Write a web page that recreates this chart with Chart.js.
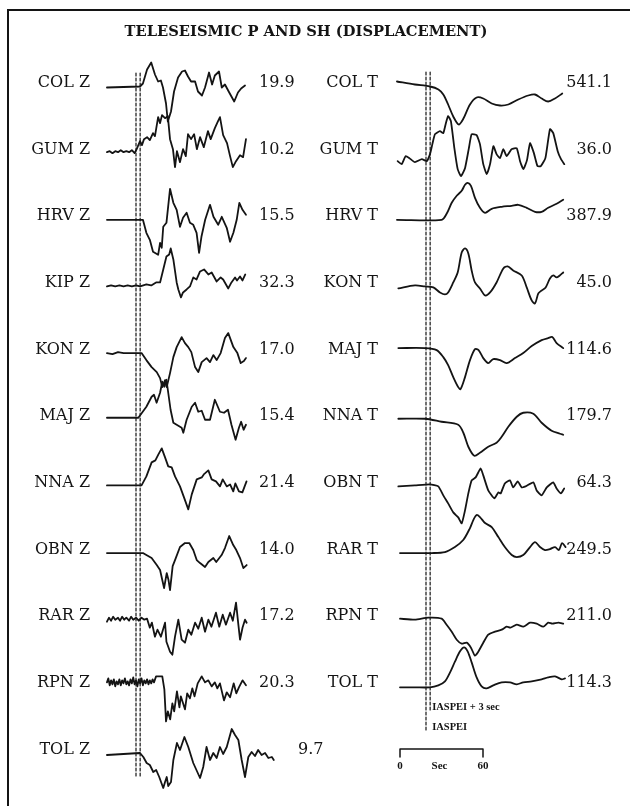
<!DOCTYPE html>
<html>
<head>
<meta charset="utf-8">
<title>Teleseismic P and SH (displacement)</title>
<script src="https://cdn.jsdelivr.net/npm/chart.js@4.4.1/dist/chart.umd.min.js"></script>
<style>
  html, body { margin: 0; padding: 0; background: #fff; }
  #wrap { position: relative; width: 630px; height: 806px; }
</style>
</head>
<body>
<div id="wrap"><canvas id="chart"></canvas></div>
<script>
// stations and peak amplitudes
var zStations = ['COL Z', 'GUM Z', 'HRV Z', 'KIP Z', 'KON Z', 'MAJ Z', 'NNA Z', 'OBN Z', 'RAR Z', 'RPN Z', 'TOL Z'];
var zAmps = [19.9, 10.2, 15.5, 32.3, 17.0, 15.4, 21.4, 14.0, 17.2, 20.3, 9.7];
var tStations = ['COL T', 'GUM T', 'HRV T', 'KON T', 'MAJ T', 'NNA T', 'OBN T', 'RAR T', 'RPN T', 'TOL T'];
var tAmps = [541.1, 36.0, 387.9, 45.0, 114.6, 179.7, 64.3, 249.5, 211.0, 114.3];

// traces: [seconds after IASPEI arrival, deflection (up +)]
var colZ = [[-21,-6],[2.9,-5],[5,-2],[8,12],[11,19],[13.7,7],[16,0],[18,1],[19.5,-6],[21.7,-22],[23,-40],[25.3,-30],[27.5,-10],[30.4,4],[33.3,10],[35.4,11],[37.6,5],[39.8,0],[42.7,0],[44.8,-10],[47.7,-14],[49.9,-6],[52.8,9],[55,-3],[57,6],[60,10],[62,-6],[64.3,-3],[67,-10],[71,-20],[73.7,-11],[76,-7],[78.8,-4]];
var gumZ = [[-21,-4],[-19,-3],[-17,-5],[-15,-3],[-13,-4],[-11,-2],[-9,-4],[-7,-3],[-5,-4],[-3,-2],[-1,-5],[0.5,-1],[2.9,7],[4.3,3],[5.8,9],[8,11],[10,8],[12.3,15],[13.7,12],[16,31],[17.4,25],[18.8,33],[21,30],[23,32],[24.6,9],[26.7,-1],[28.2,-19],[29.6,-3],[31.8,-14],[34,-1],[36,-8],[37.6,14],[39.8,9],[42,14],[44,-1],[46.3,11],[49,1],[52,17],[54,9],[57,20],[59.3,27],[60.7,31],[63,13],[65.8,5],[68,-8],[70,-19],[72.3,-13],[75.2,-7],[77.4,-9],[79.5,9]];
var hrvZ = [[-21,-5],[5,-5],[7.5,-18],[10,-25],[12.3,-37],[16,-40],[17.4,-28],[18.6,-33],[19.7,-12],[22,-8],[23.3,9],[24.6,26],[27,12],[29.4,5],[31.8,-12],[34,-3],[36.6,2],[39,-8],[41.4,-10],[43.8,-18],[45.6,-38],[47.3,-22],[50,-5],[53.5,10],[56,-2],[59.4,-10],[62,-2],[65.6,-13],[68,-27],[70.4,-18],[72.8,-5],[74.7,12],[77,5],[79.5,0]];
var kipZ = [[-21,-5],[-18,-4],[-15,-5],[-12,-4],[-9,-5],[-6,-4],[-3,-5],[0,-4],[3,-5],[7.5,-3],[11,-4],[14.5,-1],[17.4,-1],[19.7,12],[22,25],[24,27],[25.1,33],[27,22],[29.4,-1],[30.6,-8],[32.5,-16],[34,-11],[36.6,-8],[39,-5],[41.4,4],[43.8,2],[46.3,10],[49.2,12],[52.3,7],[54.7,9],[58.3,0],[61.2,4],[63,2],[66.7,-7],[69,-1],[71.6,4],[73,1],[75.2,5],[77,1],[79,7]];
var konZ = [[-21,-5],[-17,-6],[-13,-4],[-9,-5],[-5,-5],[4,-5],[7.5,-12],[11.3,-19],[15,-24],[17.4,-30],[19,-39],[21,-32],[22.2,-39],[24.6,-25],[27,-9],[29.4,1],[33,11],[35.4,5],[37.8,1],[40,-4],[42.7,-19],[45,-24],[47.5,-14],[51,-10],[53.5,-14],[55.9,-7],[58.3,-12],[61.2,-5],[64.3,10],[66.7,15],[70.4,1],[73.3,-5],[75.7,-15],[78,-13],[79.5,-10]];
var majZ = [[-21,-3],[1.7,-3],[7.5,8],[11.3,18],[13,20],[14.9,12],[17.4,22],[19,33],[20.5,28],[22,35],[23.3,22],[25,5],[27,-8],[29.4,-10],[33,-13],[34.2,-18],[36.6,-5],[40.3,8],[42.7,12],[45,3],[47.5,4],[49.9,-5],[53.5,-5],[57,15],[60.7,3],[63.6,2],[66.5,5],[69,-10],[72,-25],[74.4,-13],[76,-7],[77.8,-15],[79.5,-10]];
var nnaZ = [[-21,-4],[4,-4],[7.5,5],[11.3,19],[14,21],[16.2,27],[18.6,33],[21,24],[23.3,15],[25.8,14],[28.2,5],[31.8,-5],[34.7,-16],[37.8,-28],[40.3,-13],[43.9,2],[47.5,4],[49,7],[52.3,11],[54.7,2],[57.8,0],[60.7,-5],[62.7,2],[65.6,-5],[68,-3],[70.3,-10],[71.8,-2],[74.4,-10],[76.9,-11],[79.9,0]];
var obnZ = [[-21,-5],[5,-5],[7.5,-7],[11.3,-10],[15,-17],[17.4,-22],[19,-32],[20.3,-40],[22.2,-25],[23.5,-32],[24.6,-42],[26.5,-18],[28.2,-12],[31.8,1],[35.4,5],[38.5,5],[41.4,-2],[43.9,-12],[46.3,-15],[49.9,-19],[52.3,-14],[55.9,-10],[58,-14],[61.9,-7],[64.3,0],[67.4,12],[70.3,3],[72.5,-2],[75.2,-10],[77.6,-20],[80,-17]];
var rarZ = [[-21,-7],[-19.5,-3],[-18,-6],[-16.5,-2],[-15,-5],[-13,-3],[-11.5,-6],[-10,-2],[-8.5,-5],[-7,-3],[-5,-6],[-3.5,-2],[-2,-5],[0,-3],[2,-6],[4,-3],[6,-5],[8,-4],[10,-13],[11.5,-8],[13.7,-22],[15.5,-15],[18,-22],[21,-8],[22,-27],[24.6,-37],[26.3,-40],[28.2,-22],[30.6,-5],[33,-25],[35.4,-28],[37.8,-15],[40,-20],[42.7,-8],[45,-14],[47.5,-3],[49.9,-17],[52.3,-5],[54.5,-12],[57.8,2],[60.2,-12],[62.7,0],[65,-10],[68,2],[70,-6],[72.3,12],[74,-10],[75.2,-25],[77,-13],[78.8,-5],[80,-8]];
var rpnZ = [[-21,-1],[-20,3],[-19,-4],[-18,1],[-17,-3],[-16,2],[-15,-5],[-14,0],[-13,-3],[-12,2],[-11,-4],[-10,1],[-9,-2],[-8,3],[-7,-3],[-6,0],[-5,-4],[-4,2],[-3,-2],[-2,4],[-1,-3],[0,1],[1,-5],[2,2],[3,-2],[4,3],[5,-4],[6,1],[7,-2],[8,2],[9,-3],[10,1],[11,-2],[12,2],[13,-1],[14.5,5],[17,5],[19,5],[20.5,-8],[21.7,-40],[23,-30],[24.7,-38],[26.3,-22],[27.6,-30],[29.6,-10],[31.4,-26],[32.4,-15],[35.4,-28],[37,-12],[39,-17],[40.7,-7],[42.3,-15],[44.6,-2],[47.5,5],[49.9,-1],[52.3,1],[54.7,-5],[57,-1],[58.8,-7],[60.7,-2],[63.6,-19],[65.6,-11],[68,-16],[70.6,-2],[72.5,-12],[74.4,-6],[77,1],[79.5,-4]];
var tolZ = [[-21,-7],[2.9,-5],[5.3,-9],[7.7,-15],[10,-17],[12.5,-24],[14.6,-22],[16.8,-29],[19.7,-40],[21,-34],[22.2,-29],[23.3,-38],[25.3,-34],[27,-12],[29.6,5],[31.8,-2],[35,11],[37.8,1],[41.4,-15],[46.3,-30],[48.6,-19],[51,1],[53.5,-12],[55.9,-5],[58.3,-10],[60.7,1],[63,-6],[65.6,1],[69.2,19],[71.6,13],[74,8],[76.4,-12],[78.8,-29],[81.2,-9],[83.6,-4],[86,-8],[88.3,-2],[90.8,-7],[93.3,-5],[95.7,-10],[98.2,-9],[99.6,-12]];

var colT = [[-21,0],[-8,-3],[2.9,-5],[9,-8],[12.5,-13],[16,-23],[19.7,-35],[23.6,-43],[26.7,-38],[31.8,-23],[36.6,-16],[41.4,-17],[47.5,-22],[53.5,-24],[59.5,-23],[66.7,-18],[73.9,-14],[78.8,-13],[83.6,-17],[88.3,-20],[93.2,-17],[98.5,-12]];
var gumT = [[-20.5,-13],[-17.6,-16],[-14.7,-8],[-12,-10],[-8,-14],[-3,-11],[0.5,-13],[2.9,-6],[4.6,4],[6.5,14],[10.1,17],[12.5,15],[14.2,24],[16,32],[18,27],[20.5,0],[22.9,-21],[25.3,-28],[28.2,-20],[31,0],[33,14],[36.6,13],[39,4],[41.4,-16],[43.9,-26],[46.3,-16],[48.7,2],[51,-6],[53.5,-10],[55.9,-1],[58.3,-8],[61.9,-1],[65.6,0],[68,-13],[70.4,-21],[73,-12],[75.2,5],[78,-5],[80.6,-18],[83,-18],[86.3,-10],[89.6,19],[92,15],[95.2,-3],[97.6,-11],[100,-16]];
var hrvT = [[-21,-5],[11.3,-5],[14.9,1],[18.6,12],[22.2,19],[25.8,24],[28.2,30],[30.1,32],[32.5,29],[35.4,17],[39,7],[42.7,2],[47.5,6],[54.7,8],[61.9,9],[66.7,10],[72.8,7],[78.8,3],[83.6,3],[88.3,7],[94.4,11],[99.2,15]];
var konT = [[-20,-7],[-8,-4],[-0.7,-5],[5.3,-6],[10.1,-11],[13.7,-13],[16,-11],[19.7,-1],[22.9,9],[25.8,29],[28.2,33],[30.6,28],[33,11],[35.4,-1],[39,-7],[42.7,-14],[46.3,-11],[51,-1],[55.9,13],[59,15],[63,11],[69.2,6],[72.8,-6],[76.4,-19],[78.8,-22],[81.2,-12],[83.6,-9],[86.5,-6],[89.6,3],[92,6],[94.4,4],[96.7,6],[99.2,9]];
var majT = [[-20,0],[-0.7,0],[7.7,-2],[12.5,-9],[16,-17],[19.7,-29],[23.3,-39],[25,-41],[28.2,-29],[31.8,-12],[35.4,-1],[38,-2],[41.4,-10],[45,-15],[48.6,-11],[53.5,-12],[58.3,-15],[64.3,-10],[70.3,-5],[76.4,2],[83.6,8],[88.3,10],[91.3,11],[94.4,5],[99.2,0]];
var nnaT = [[-20,-4],[-0.7,-4],[11.3,-7],[23.3,-10],[27,-18],[30.6,-32],[34.9,-41],[39,-38],[45,-32],[51,-28],[54.7,-22],[59.5,-12],[65.6,-2],[70.3,2],[77.6,1],[83.6,-8],[90.8,-16],[96.9,-19],[99.2,-20]];
var obnT = [[-20,-5],[-8,-4],[2.9,-3],[8.9,-5],[12.5,-14],[16,-22],[19.7,-31],[23.3,-36],[25.8,-42],[28.2,-29],[30.6,-12],[33,1],[35.9,4],[39.5,13],[41.4,6],[45,-9],[49.4,-17],[52.3,-11],[54,-12],[57,-2],[60.7,1],[63,-6],[66.3,0],[69.2,-6],[72,-5],[77.6,-1],[80,-9],[83.6,-14],[87.3,-6],[92,-1],[94.4,-7],[97.6,-12],[99.9,-7]];
var rarT = [[-18.8,-5],[-8,-5],[4,-5],[13.7,-4],[20.9,1],[26.9,8],[31.8,20],[34.2,28],[36.6,33],[39,31],[42.7,25],[47.5,21],[52.3,11],[57,1],[62,-7],[65.6,-9],[70.3,-7],[75.2,1],[78.8,6],[82.4,1],[86,-2],[89.6,-1],[93.3,1],[96,-2],[98.4,5],[100.9,1]];
var rpnT = [[-18.8,-4],[-8,-5],[1.7,-3],[11.3,-4],[14.9,-10],[18.6,-17],[22.2,-25],[25.8,-29],[29.4,-28],[32.5,-33],[35.4,-41],[37.8,-37],[41.4,-28],[45,-20],[49.9,-17],[54.7,-15],[58.3,-12],[61,-13],[65.6,-10],[70.3,-12],[75.2,-8],[80,-9],[84.8,-12],[88.3,-8],[91.3,-9],[95.7,-8],[99.2,-9]];
var tolT = [[-18.8,-6],[-8,-6],[2.9,-6],[8.9,-4],[13.7,0],[17.4,9],[21,20],[24.6,30],[27.5,34],[30.1,30],[33,19],[36.6,4],[40.2,-5],[43.8,-7],[48.6,-4],[54.7,-1],[60.7,-1],[65.6,-3],[70.3,-1],[76.4,0],[83.6,2],[88.3,4],[93.3,5],[98.1,2],[100.5,3]];

var zTraces = [colZ, gumZ, hrvZ, kipZ, konZ, majZ, nnaZ, obnZ, rarZ, rpnZ, tolZ];
var tTraces = [colT, gumT, hrvT, konT, majT, nnaT, obnT, rarT, rpnT, tolT];
var tTension = [0.3, 0.15, 0.3, 0.3, 0.3, 0.3, 0.15, 0.3, 0.2, 0.3];

var markerSec = [0, 3];          // IASPEI, IASPEI + 3 sec
var scaleBarSec = [0, 60];

// layout
var PX_PER_SEC = 83 / 60;
var PAGE_SEC = 630 / PX_PER_SEC;
var Z_T0 = 136 / PX_PER_SEC;
var T_T0 = 426 / PX_PER_SEC;
var BAR_T0 = 400 / PX_PER_SEC;
var ROW_Y0 = 81.5, ROW_DY = 66.65;
var INK = '#141414';

function rowY(i) { return ROW_Y0 + ROW_DY * i; }

var datasets = [];
zTraces.forEach(function (tr, i) {
    datasets.push({
        data: tr.map(function (p) { return { x: Z_T0 + p[0], y: rowY(i) - p[1] }; }),
        borderColor: INK, borderWidth: 1.8, tension: 0
    });
});
tTraces.forEach(function (tr, i) {
    datasets.push({
        data: tr.map(function (p) { return { x: T_T0 + p[0], y: rowY(i) - p[1] }; }),
        borderColor: INK, borderWidth: 1.8, tension: tTension[i]
    });
});

// dashed arrival markers
var zMarkEnd = [778, 778];
var tMarkEnd = [731, 710];
markerSec.forEach(function (s, k) {
    datasets.push({
        data: [{ x: Z_T0 + s, y: 73 }, { x: Z_T0 + s, y: zMarkEnd[k] }],
        borderColor: INK, borderWidth: 1.2, borderDash: [3, 2], tension: 0
    });
    datasets.push({
        data: [{ x: T_T0 + s, y: 72 }, { x: T_T0 + s, y: tMarkEnd[k] }],
        borderColor: INK, borderWidth: 1.2, borderDash: [3, 2], tension: 0
    });
});

// time scale bar
datasets.push({
    data: [
        { x: BAR_T0 + scaleBarSec[0], y: 757 }, { x: BAR_T0 + scaleBarSec[0], y: 749 },
        { x: BAR_T0 + scaleBarSec[1], y: 749 }, { x: BAR_T0 + scaleBarSec[1], y: 757 }
    ],
    borderColor: INK, borderWidth: 1.5, tension: 0
});

var textPlugin = {
    id: 'figureText',
    afterDraw: function (chart) {
        var ctx = chart.ctx;
        var xs = chart.scales.x, ys = chart.scales.y;
        ctx.save();
        ctx.fillStyle = INK;
        ctx.strokeStyle = INK;

        // frame (top and left)
        ctx.lineWidth = 2;
        ctx.beginPath();
        ctx.moveTo(630, 10); ctx.lineTo(8, 10); ctx.lineTo(8, 806);
        ctx.stroke();

        // title, fitted to the original width
        var title = 'TELESEISMIC P AND SH (DISPLACEMENT)';
        ctx.font = 'bold 16px "DejaVu Serif"';
        var fs = 16 * 362 / ctx.measureText(title).width;
        ctx.font = 'bold ' + fs.toFixed(1) + 'px "DejaVu Serif"';
        ctx.textAlign = 'center';
        ctx.textBaseline = 'alphabetic';
        ctx.fillText(title, 306, 36);

        ctx.font = '16px "DejaVu Serif"';
        zStations.forEach(function (s, i) {
            var y = ys.getPixelForValue(rowY(i)) + 5.5;
            ctx.textAlign = 'right';
            ctx.fillText(s, 90, y);
            ctx.textAlign = 'left';
            ctx.fillText(zAmps[i].toFixed(1), i === zStations.length - 1 ? 298 : 259, y);
        });
        tStations.forEach(function (s, i) {
            var y = ys.getPixelForValue(rowY(i)) + 5.5;
            ctx.textAlign = 'right';
            ctx.fillText(s, 378, y);
            ctx.fillText(tAmps[i].toFixed(1), 612, y);
        });

        // marker and scale labels
        ctx.font = 'bold 10.5px "Liberation Serif"';
        ctx.textAlign = 'left';
        ctx.textBaseline = 'middle';
        var mx = xs.getPixelForValue(T_T0 + markerSec[1]) + 2;
        ctx.fillText('IASPEI + 3 sec', mx, 707);
        ctx.fillText('IASPEI', mx, 727);

        ctx.font = 'bold 11px "Liberation Serif"';
        ctx.textAlign = 'center';
        var b0 = xs.getPixelForValue(BAR_T0 + scaleBarSec[0]);
        var b1 = xs.getPixelForValue(BAR_T0 + scaleBarSec[1]);
        ctx.fillText(String(scaleBarSec[0]), b0, 766);
        ctx.fillText('Sec', (b0 + b1) / 2 - 2, 766);
        ctx.fillText(String(scaleBarSec[1]), b1, 766);
        ctx.restore();
    }
};

new Chart(document.getElementById('chart'), {
    type: 'line',
    data: { datasets: datasets },
    options: {
        responsive: true,
        maintainAspectRatio: false,
        animation: false,
        layout: { padding: 0 },
        plugins: { legend: { display: false }, tooltip: { enabled: false } },
        elements: {
            point: { radius: 0 },
            line: { fill: false, borderJoinStyle: 'round', borderCapStyle: 'round' }
        },
        scales: {
            x: { type: 'linear', min: 0, max: PAGE_SEC, display: false },
            y: { type: 'linear', min: 0, max: 806, reverse: true, display: false }
        }
    },
    plugins: [textPlugin]
});
</script>
</body>
</html>
